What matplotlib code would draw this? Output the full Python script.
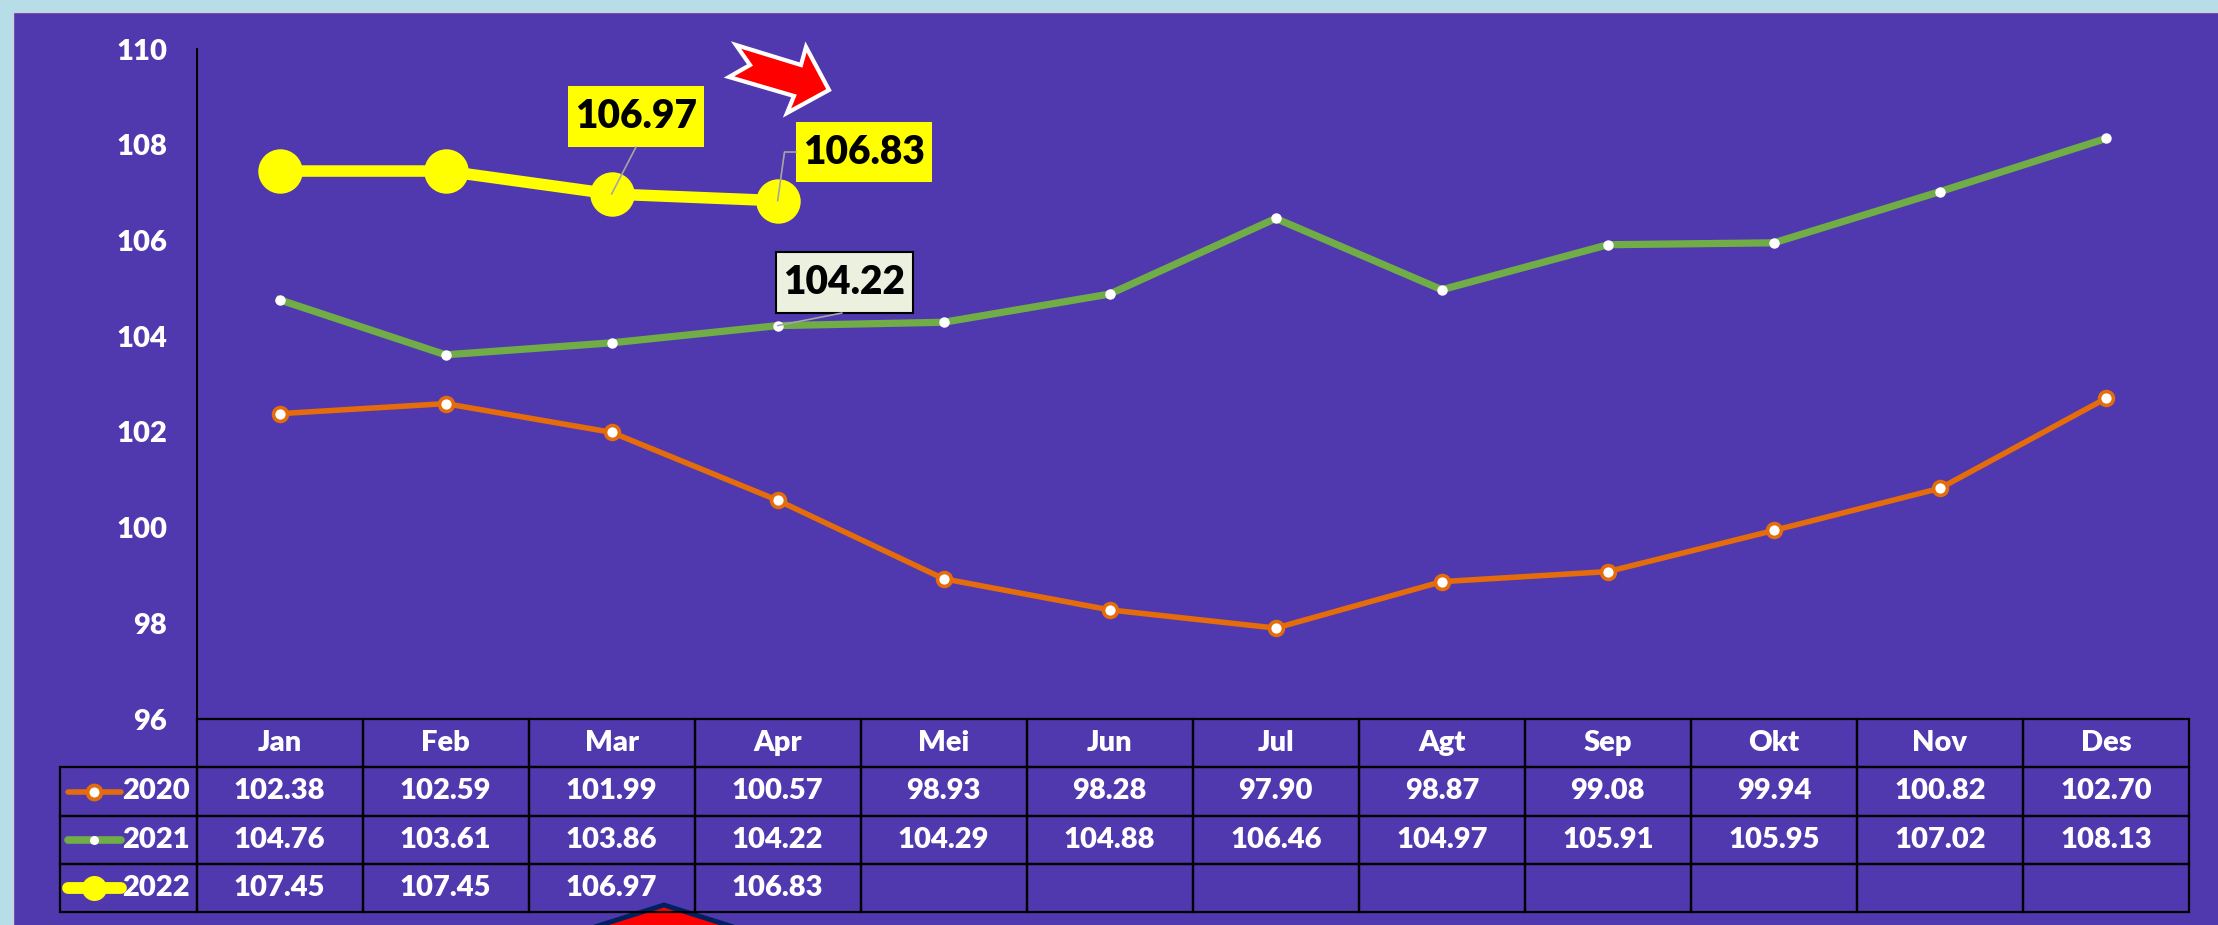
import matplotlib
matplotlib.use("Agg")
import matplotlib.pyplot as plt
from matplotlib.patches import Polygon, Rectangle

plt.rcParams['font.family'] = ['Lato', 'DejaVu Sans']
plt.rcParams['font.weight'] = 'heavy'

months = ['Jan', 'Feb', 'Mar', 'Apr', 'Mei', 'Jun', 'Jul', 'Agt', 'Sep', 'Okt', 'Nov', 'Des']
years = ['2020', '2021', '2022']
v2020 = [102.38, 102.59, 101.99, 100.57, 98.93, 98.28, 97.90, 98.87, 99.08, 99.94, 100.82, 102.70]
v2021 = [104.76, 103.61, 103.86, 104.22, 104.29, 104.88, 106.46, 104.97, 105.91, 105.95, 107.02, 108.13]
v2022 = [107.45, 107.45, 106.97, 106.83]
yticks = [96, 98, 100, 102, 104, 106, 108, 110]

W, H = 2218, 925
PANEL = '#5038AE'
ORANGE = '#E46C0A'
GREEN = '#70AD47'
YELLOW = '#FFFF00'

fig = plt.figure(figsize=(W / 100, H / 100), dpi=100, facecolor='#B7DDE8')

# background + shapes, in pixels of the picture
bg = fig.add_axes([0, 0, 1, 1], zorder=0)
bg.set_xlim(0, W)
bg.set_ylim(H, 0)
bg.axis('off')
bg.add_patch(Rectangle((13, 11.5), W, H, fc=PANEL, ec='#D0D0D0', lw=1))

# red arrow on top, red pentagon cut off at the bottom
arrow = [(736, 45), (801, 65), (806, 47), (829, 90), (787, 113), (794, 96), (729, 77), (750, 65)]
bg.add_patch(Polygon(arrow, fc='red', ec='white', lw=3, joinstyle='miter'))
bg.add_patch(Polygon([(664, 905), (566, 936), (762, 936)], fc='red', ec='#002060', lw=3.5, joinstyle='miter'))

# label boxes
bg.add_patch(Rectangle((568, 86), 136, 61, fc=YELLOW, ec='none'))
bg.add_patch(Rectangle((796, 122), 136, 60, fc=YELLOW, ec='none'))
bg.add_patch(Rectangle((776, 252), 137, 61, fc='#EBF1DE', ec='black', lw=1.5))

# legend keys inside the table
key_y = [791.7, 839.7, 887.7]
bg.plot([68, 121], [key_y[0]] * 2, color=ORANGE, lw=4, solid_capstyle='round', zorder=3)
bg.plot([94], [key_y[0]], 'o', ms=10, mfc='white', mec=ORANGE, mew=2.8, zorder=3)
bg.plot([68, 121], [key_y[1]] * 2, color=GREEN, lw=5.5, solid_capstyle='round', zorder=3)
bg.plot([94], [key_y[1]], 'o', ms=6.5, mfc='white', mew=0, zorder=3)
bg.plot([68, 121], [key_y[2]] * 2, color=YELLOW, lw=8.5, solid_capstyle='round', zorder=3)
bg.plot([94], [key_y[2]], 'o', ms=18, mfc=YELLOW, mew=0, zorder=3)

ax = fig.add_axes([196.5 / W, 1 - 719 / H, 1992.5 / W, 670 / H], zorder=1)
ax.patch.set_visible(False)
x = list(range(12))
ax.plot(x, v2020, color=ORANGE, lw=4, marker='o', ms=10, mfc='white', mec=ORANGE, mew=2.6)
ax.plot(x, v2021, color=GREEN, lw=5.2, marker='o', ms=7.5, mfc='white', mew=0)
ax.plot(x[:4], v2022, color=YELLOW, lw=8.3, marker='o', ms=32, mfc=YELLOW, mew=0)

ax.set_xlim(-0.5, 11.5)
ax.set_ylim(96, 110)
ax.set_xticks([])
ax.set_yticks(yticks)
ax.tick_params(axis='y', length=0, pad=21, labelsize=21, labelcolor='white')
for s in ['top', 'right', 'bottom']:
    ax.spines[s].set_visible(False)
ax.spines['left'].set_color('black')
ax.spines['left'].set_linewidth(1.5)

# data table under the plot, first column holds the years
rows = [
    [years[0]] + ['%.2f' % v for v in v2020],
    [years[1]] + ['%.2f' % v for v in v2021],
    [years[2]] + ['%.2f' % v for v in v2022] + [''] * 8,
]
tbl = ax.table(cellText=rows, colLabels=[''] + months, cellLoc='center',
               colWidths=[136.5 / 2129] + [(1992.5 / 12) / 2129] * 12,
               bbox=[-136.5 / 1992.5, -193 / 670, 2129 / 1992.5, 193 / 670])
tbl.auto_set_font_size(False)
for (r, c), cell in tbl.get_celld().items():
    cell.set_facecolor('none')
    cell.set_edgecolor('black')
    cell.set_linewidth(1.6)
    cell.set_text_props(color='white', fontsize=21, fontweight='heavy')
    if c == 0:
        cell.PAD = 0.05
        cell.set_text_props(ha='right')
tbl[(0, 0)].visible_edges = ''

# data labels and leader lines
grey = '#A6A6A6'
leader = dict(arrowstyle='-', color=grey, lw=1.2, shrinkA=0, shrinkB=0)
ax.annotate('', xy=(2, 106.97), xytext=(636, H - 147), textcoords='figure pixels', arrowprops=leader)
ax.annotate('', xy=(3, 106.83), xytext=(796, H - 152), textcoords='figure pixels',
            arrowprops=dict(leader, connectionstyle='angle,angleA=180,angleB=82,rad=0'))
ax.annotate('', xy=(3, 104.22), xytext=(842, H - 313), textcoords='figure pixels', arrowprops=leader)
ax.annotate('106.97', xy=(636, H - 117), xycoords='figure pixels', ha='center', va='center',
            fontsize=28, color='black', zorder=5)
ax.annotate('106.83', xy=(864, H - 153), xycoords='figure pixels', ha='center', va='center',
            fontsize=28, color='black', zorder=5)
ax.annotate('104.22', xy=(844.5, H - 283), xycoords='figure pixels', ha='center', va='center',
            fontsize=28, color='black', zorder=5)

fig.savefig('out.png', dpi=100, facecolor=fig.get_facecolor())
